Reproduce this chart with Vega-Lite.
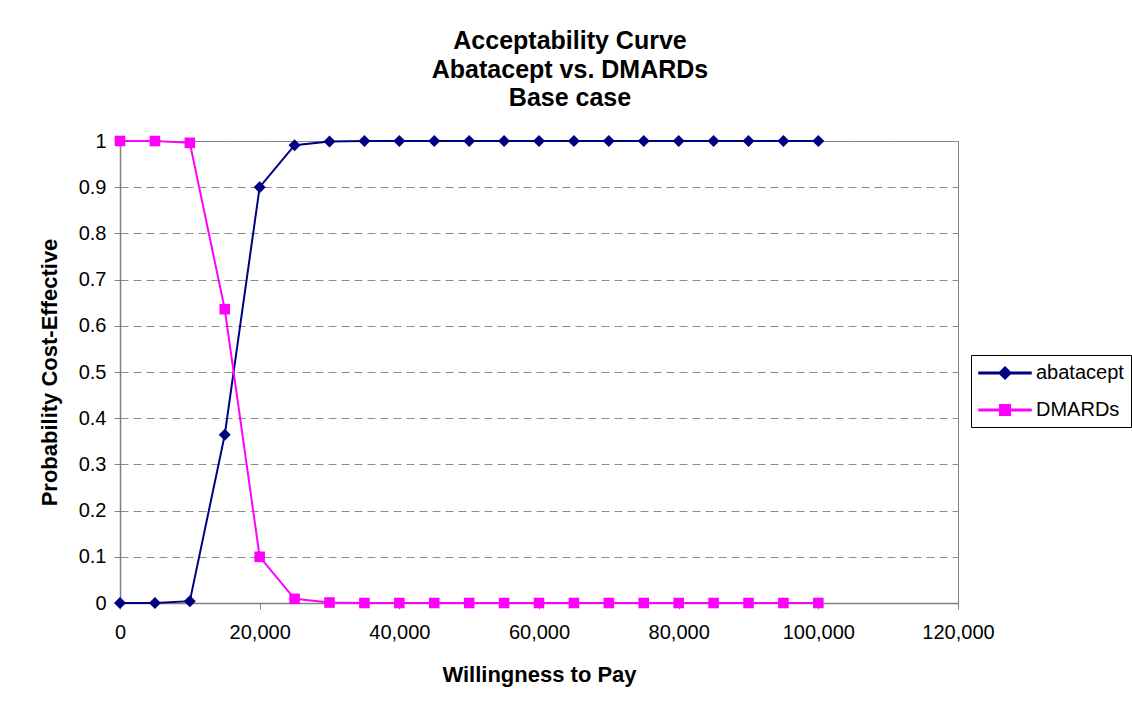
{
  "$schema": "https://vega.github.io/schema/vega-lite/v6.json",
  "width": 838,
  "height": 462,
  "autosize": {"type": "none"},
  "padding": {"left": 120, "top": 141, "right": 174, "bottom": 116},
  "background": "white",
  "title": {
    "text": ["Acceptability Curve", "Abatacept vs. DMARDs", "Base case"],
    "font": "Liberation Sans",
    "fontSize": 25,
    "fontWeight": "bold",
    "lineHeight": 28.5,
    "anchor": "middle",
    "dx": 31,
    "offset": 20,
    "color": "black"
  },
  "data": {
    "values": [
      {"wtp": 0, "series": "abatacept", "p": 0},
      {"wtp": 5000, "series": "abatacept", "p": 0},
      {"wtp": 10000, "series": "abatacept", "p": 0.004},
      {"wtp": 15000, "series": "abatacept", "p": 0.364},
      {"wtp": 20000, "series": "abatacept", "p": 0.9},
      {"wtp": 25000, "series": "abatacept", "p": 0.991},
      {"wtp": 30000, "series": "abatacept", "p": 0.999},
      {"wtp": 35000, "series": "abatacept", "p": 1},
      {"wtp": 40000, "series": "abatacept", "p": 1},
      {"wtp": 45000, "series": "abatacept", "p": 1},
      {"wtp": 50000, "series": "abatacept", "p": 1},
      {"wtp": 55000, "series": "abatacept", "p": 1},
      {"wtp": 60000, "series": "abatacept", "p": 1},
      {"wtp": 65000, "series": "abatacept", "p": 1},
      {"wtp": 70000, "series": "abatacept", "p": 1},
      {"wtp": 75000, "series": "abatacept", "p": 1},
      {"wtp": 80000, "series": "abatacept", "p": 1},
      {"wtp": 85000, "series": "abatacept", "p": 1},
      {"wtp": 90000, "series": "abatacept", "p": 1},
      {"wtp": 95000, "series": "abatacept", "p": 1},
      {"wtp": 100000, "series": "abatacept", "p": 1},
      {"wtp": 0, "series": "DMARDs", "p": 1},
      {"wtp": 5000, "series": "DMARDs", "p": 1},
      {"wtp": 10000, "series": "DMARDs", "p": 0.996},
      {"wtp": 15000, "series": "DMARDs", "p": 0.636},
      {"wtp": 20000, "series": "DMARDs", "p": 0.1},
      {"wtp": 25000, "series": "DMARDs", "p": 0.009},
      {"wtp": 30000, "series": "DMARDs", "p": 0.001},
      {"wtp": 35000, "series": "DMARDs", "p": 0},
      {"wtp": 40000, "series": "DMARDs", "p": 0},
      {"wtp": 45000, "series": "DMARDs", "p": 0},
      {"wtp": 50000, "series": "DMARDs", "p": 0},
      {"wtp": 55000, "series": "DMARDs", "p": 0},
      {"wtp": 60000, "series": "DMARDs", "p": 0},
      {"wtp": 65000, "series": "DMARDs", "p": 0},
      {"wtp": 70000, "series": "DMARDs", "p": 0},
      {"wtp": 75000, "series": "DMARDs", "p": 0},
      {"wtp": 80000, "series": "DMARDs", "p": 0},
      {"wtp": 85000, "series": "DMARDs", "p": 0},
      {"wtp": 90000, "series": "DMARDs", "p": 0},
      {"wtp": 95000, "series": "DMARDs", "p": 0},
      {"wtp": 100000, "series": "DMARDs", "p": 0}
    ]
  },
  "encoding": {
    "x": {
      "field": "wtp",
      "type": "quantitative",
      "title": "Willingness to Pay",
      "scale": {"domain": [0, 120000], "nice": false, "zero": false},
      "axis": {
        "values": [0, 20000, 40000, 60000, 80000, 100000, 120000],
        "format": ",.0f",
        "grid": false,
        "labelFlush": false,
        "labelPadding": 13,
        "titlePadding": 22
      }
    },
    "y": {
      "field": "p",
      "type": "quantitative",
      "title": "Probability Cost-Effective",
      "scale": {"domain": [0, 1], "nice": false},
      "axis": {
        "values": [0, 0.1, 0.2, 0.3, 0.4, 0.5, 0.6, 0.7, 0.8, 0.9, 1],
        "format": ".1~f",
        "grid": true,
        "gridDash": [8, 5],
        "gridColor": "#8c8c8c",
        "labelPadding": 8,
        "titlePadding": 17
      }
    }
  },
  "layer": [
    {
      "mark": {"type": "line", "strokeWidth": 2},
      "encoding": {
        "color": {
          "field": "series",
          "type": "nominal",
          "scale": {"domain": ["abatacept", "DMARDs"], "range": ["#000080", "#FF00FF"]},
          "legend": {
            "orient": "none",
            "legendX": 851,
            "legendY": 214,
            "title": null,
            "encode": {
              "symbols": {
                "update": {
                  "shape": {"signal": "datum.value === 'abatacept' ? 'M-2.6,-0.08H2.6V0.08H-2.6ZM0,-0.6L0.6,0L0,0.6L-0.6,0Z' : 'M-2.6,-0.08H2.6V0.08H-2.6ZM-0.53,-0.53H0.53V0.53H-0.53Z'"},
                  "fill": {"signal": "datum.value === 'abatacept' ? '#000080' : '#FF00FF'"},
                  "stroke": {"value": "transparent"},
                  "size": {"value": 400},
                  "opacity": {"value": 1},
                  "fillOpacity": {"value": 1}
                }
              }
            }
          }
        }
      }
    },
    {
      "mark": {"type": "point", "filled": true, "opacity": 1},
      "encoding": {
        "color": {
          "field": "series",
          "type": "nominal",
          "legend": null
        },
        "shape": {
          "field": "series",
          "type": "nominal",
          "scale": {"domain": ["abatacept", "DMARDs"], "range": ["diamond", "square"]},
          "legend": null
        },
        "size": {
          "field": "series",
          "type": "nominal",
          "scale": {"domain": ["abatacept", "DMARDs"], "range": [144, 112]},
          "legend": null
        }
      }
    }
  ],
  "resolve": {"legend": {"color": "independent"}},
  "config": {
    "font": "Liberation Sans",
    "view": {"stroke": "#808080", "strokeWidth": 1},
    "axis": {
      "domainColor": "#808080",
      "domainWidth": 1.5,
      "tickColor": "#808080",
      "tickSize": 6,
      "labelFont": "Liberation Sans",
      "labelFontSize": 20,
      "labelColor": "black",
      "titleFont": "Liberation Sans",
      "titleFontSize": 22,
      "titleFontWeight": "bold",
      "titleColor": "black"
    },
    "legend": {
      "padding": 7,
      "symbolOffset": 16,
      "labelOffset": 20,
      "rowPadding": 16,
      "symbolSize": 400,
      "labelFont": "Liberation Sans",
      "labelFontSize": 20,
      "labelColor": "black",
      "strokeColor": "black",
      "fillColor": "white"
    }
  }
}
